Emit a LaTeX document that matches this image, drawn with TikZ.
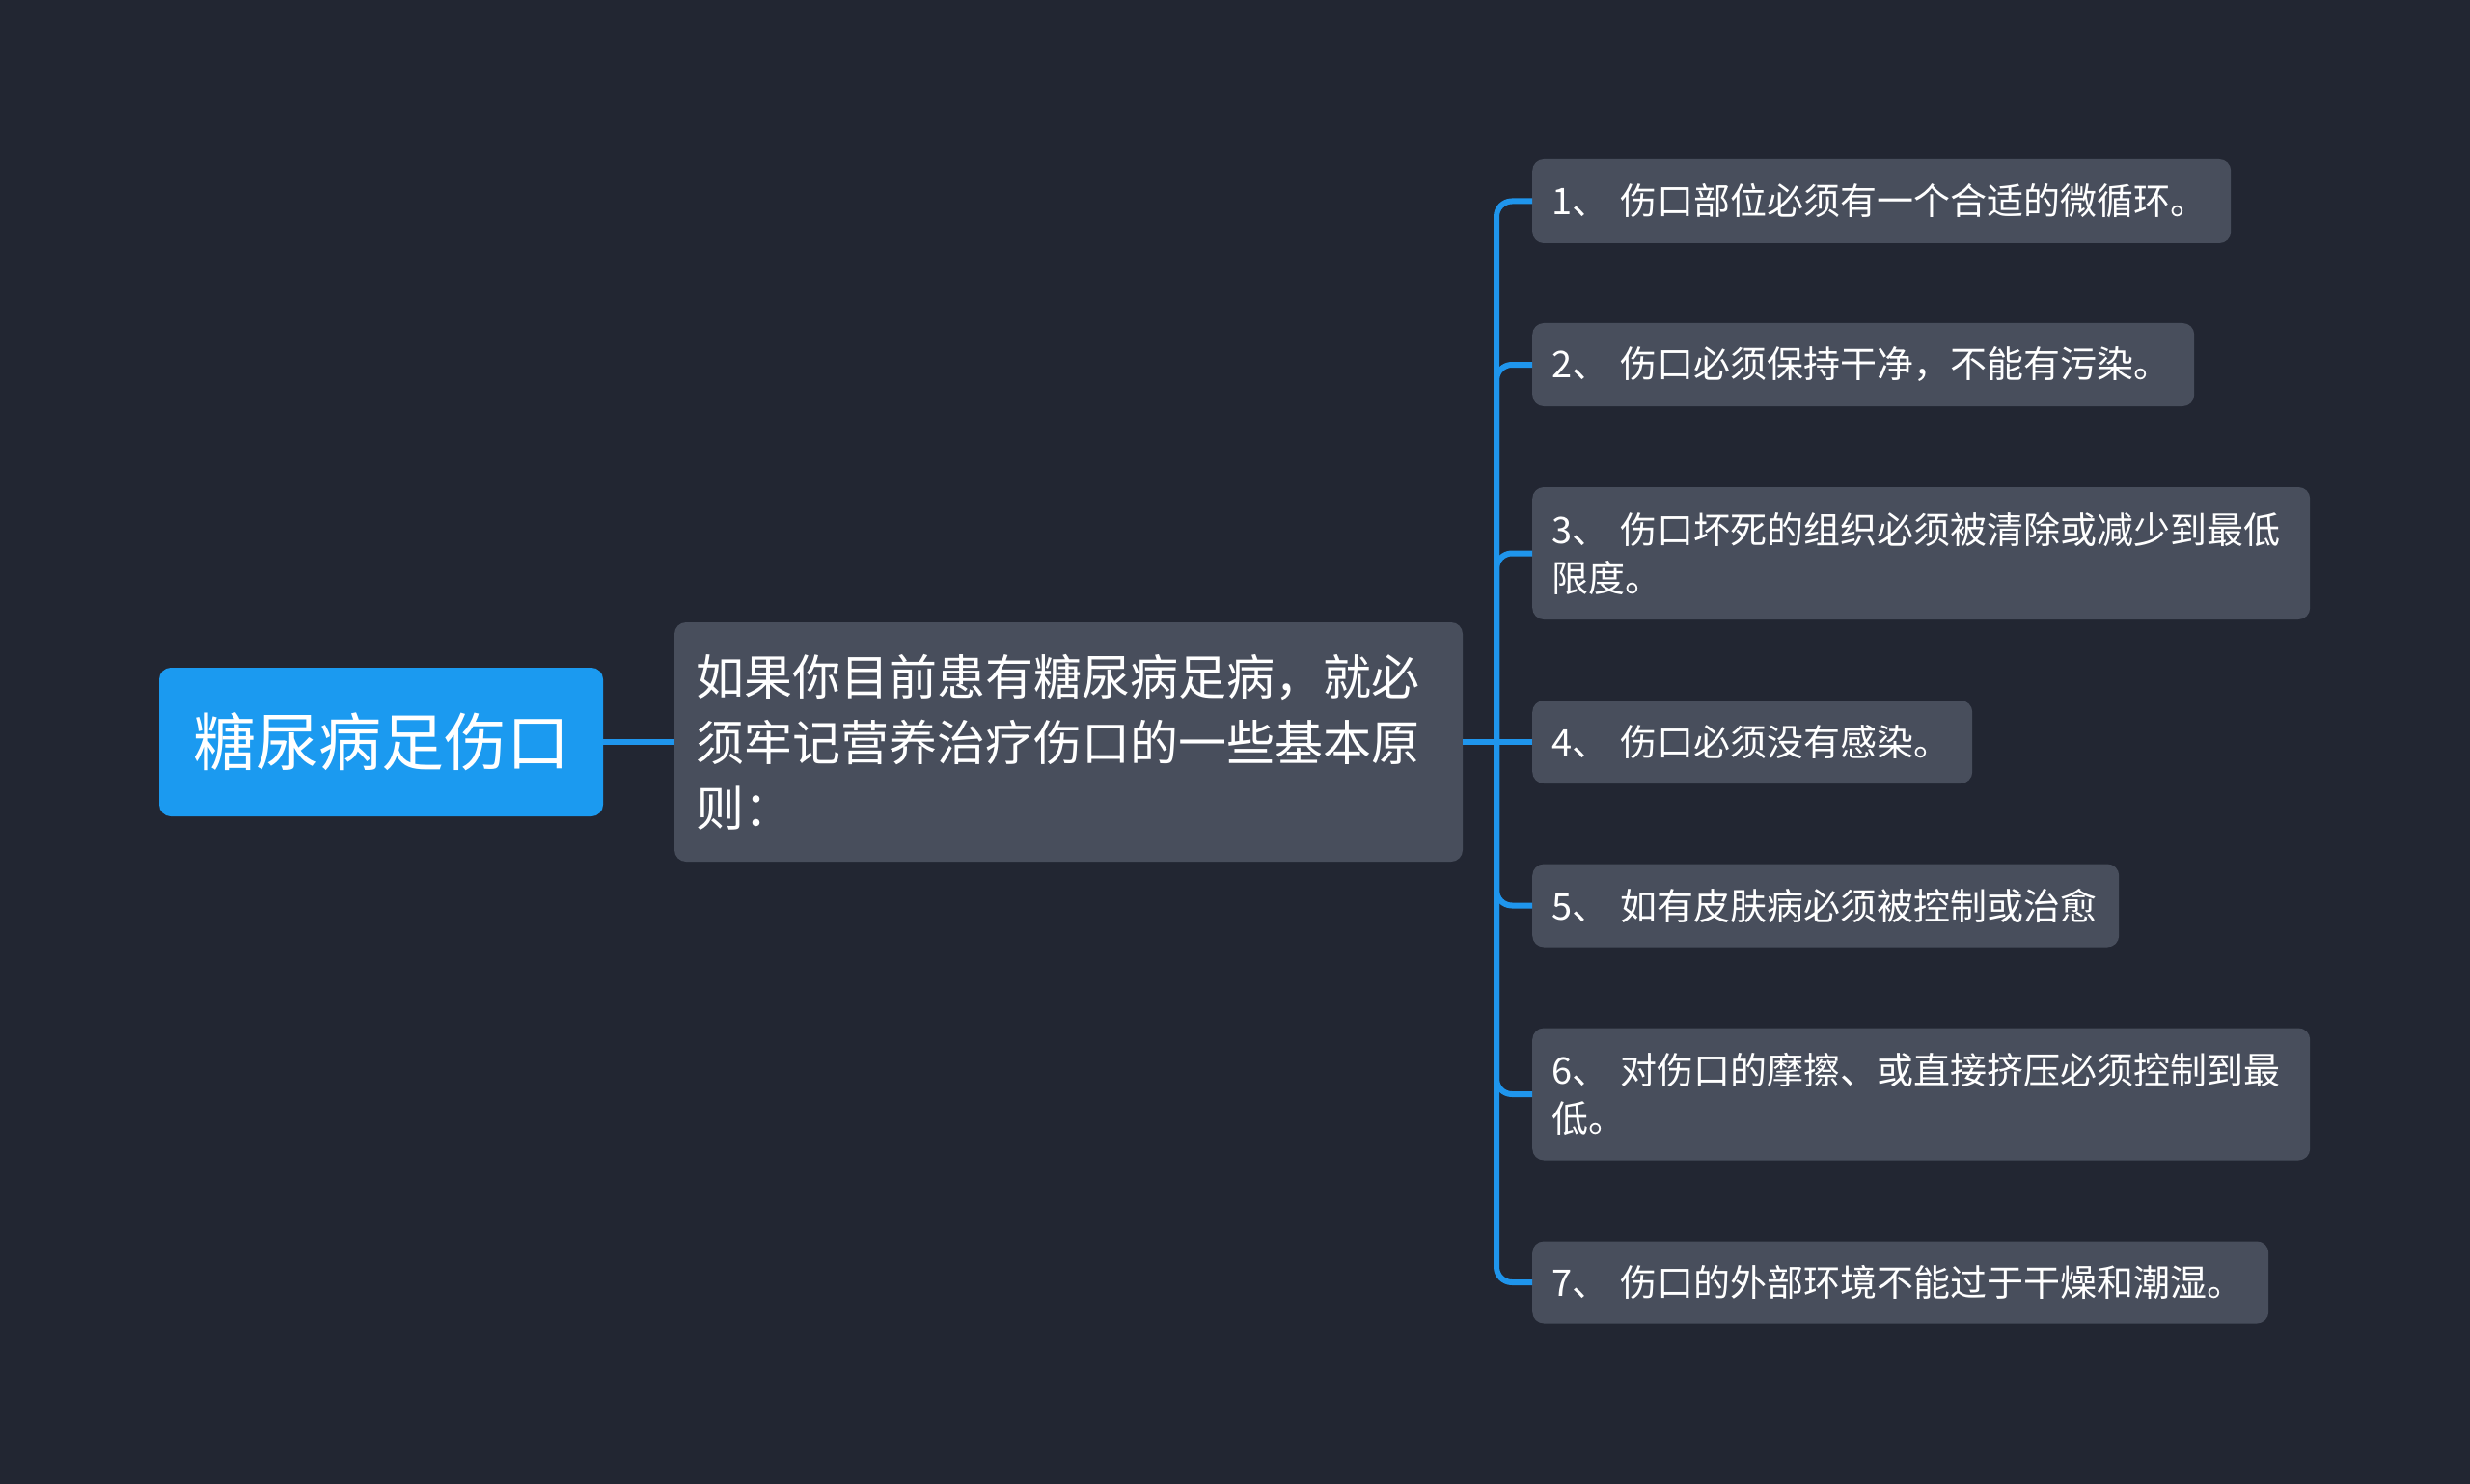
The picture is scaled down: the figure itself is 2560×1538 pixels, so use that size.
\documentclass[tikz,border=0pt]{standalone}
\usepackage{fontspec}
\setmainfont{Noto Sans CJK SC}
\definecolor{bg}{HTML}{222632}
\definecolor{boxc}{HTML}{484E5C}
\definecolor{rootc}{HTML}{1B9AF0}
\definecolor{linec}{HTML}{1F95EC}
\begin{document}
\begin{tikzpicture}[x=1pt,y=-1pt,
  leaf/.style={fill=boxc, rounded corners=12pt, anchor=west, text=white,
    inner xsep=20pt, inner ysep=0pt, align=left,
    font=\fontsize{38}{50}\selectfont},
  conn/.style={draw=linec, line width=6pt},
  branch/.style={conn, rounded corners=16pt}]
\fill[bg] (0,0) rectangle (2560,1538);
\useasboundingbox (0,0) rectangle (2560,1538);

\node[fill=rootc, rounded corners=12pt, minimum width=460pt, minimum height=154pt,
  text=white, inner sep=0pt, font=\fontsize{65}{78}\selectfont] (root) at (395,769) {糖尿病足伤口};

\node[fill=boxc, rounded corners=12pt, minimum height=248pt, text width=773pt,
  inner xsep=22pt, inner ysep=0pt, align=left, text=white,
  font=\fontsize{50}{68}\selectfont] (mid) at (1107.5,769)
  {如果你目前患有糖尿病足病，就必\\须牢记营养治疗伤口的一些基本原\\则：};

\node[leaf, minimum height=87pt, text width=684pt] (l1) at (1588,208.5) {1、 伤口部位必须有一个合适的微循环。};
\node[leaf, minimum height=86pt, text width=646pt] (l2) at (1588,378) {2、 伤口必须保持干净，不能有污染。};
\node[leaf, minimum height=137pt, text width=766pt] (l3) at (1588,573.5) {3、 伤口坏死的组织必须被清除或减少到最低\\限度。};
\node[leaf, minimum height=86pt, text width=416pt] (l4) at (1588,769) {4、 伤口必须没有感染。};
\node[leaf, minimum height=86pt, text width=568pt] (l5) at (1588,938.5) {5、 如有皮肤病必须被控制或治愈};
\node[leaf, minimum height=137pt, text width=766pt] (l6) at (1588,1134) {6、 对伤口的摩擦、或直接挤压必须控制到最\\低。};
\node[leaf, minimum height=85pt, text width=723pt] (l7) at (1588,1329) {7、 伤口的外部环境不能过于干燥和潮湿。};

\coordinate (j) at (1551,769);

\draw[conn] (root.east) -- (mid.west);
\draw[conn] (mid.east |- j) -- (l4.west);
\foreach \n in {1,2,3,5,6,7} {
  \draw[branch] (j) |- (l\n.west);
}
\end{tikzpicture}
\end{document}
